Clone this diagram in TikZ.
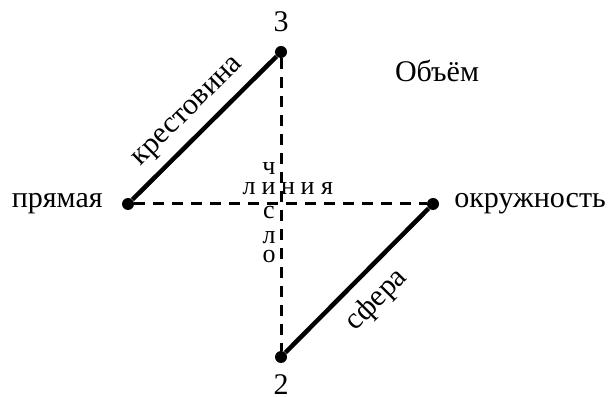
\documentclass[tikz,border=0pt]{standalone}
\usepackage{fontspec}
\setmainfont{Liberation Serif}
\usepackage{tikz}
\usetikzlibrary{positioning}
\tikzstyle{dot} = [circle, fill=black, inner sep=0pt, minimum size=12pt]
\tikzstyle{word} = [inner sep=0pt, font=\fontsize{30}{36}\selectfont]
\tikzstyle{letter} = [inner sep=0pt, font=\fontsize{26}{30}\selectfont]
\tikzstyle{edge} = [draw, line width=4.5pt]
\tikzstyle{guide} = [draw, line width=3pt, dash pattern=on 11pt off 8pt]

\begin{document}
\begin{tikzpicture}[x=1pt, y=1pt]
    \useasboundingbox (0,0) rectangle (615,396);
    % Place nodes
    \node [dot] (top) at (281,344) {};
    \node [dot] (bottom) at (281,39) {};
    \node [dot] (left) at (128,192) {};
    \node [dot] (right) at (433,192) {};
    \node [word, above=14pt of top] (three) {3};
    \node [word, below=11pt of bottom] (two) {2};
    \node [word, left=19pt of left] (line) {прямая};
    \node [word, right=15pt of right] (circle) {окружность};
    \node [word] (volume) at (437,325) {Объём};

    % Crossword letters
    \foreach \ch [count=\i] in {л,и,н,и,я}
        \node [letter] (row\i) at (229.5+19.5*\i,207) {\ch};
    \foreach \ch/\y [count=\i] in {ч/227,с/183,л/158,о/139}
        \node [letter] (col\i) at (269,\y) {\ch};

    % Draw edges
    \path [guide] (left) -- (right);
    \path [guide] (top) -- (bottom);
    \path [edge] (left) -- node [word, sloped, above, inner sep=9pt] (cross) {крестовина} (top);
    \path [edge] (bottom) -- node [word, sloped, below, inner sep=12pt] (sphere) {сфера} (right);
\end{tikzpicture}
\end{document}
